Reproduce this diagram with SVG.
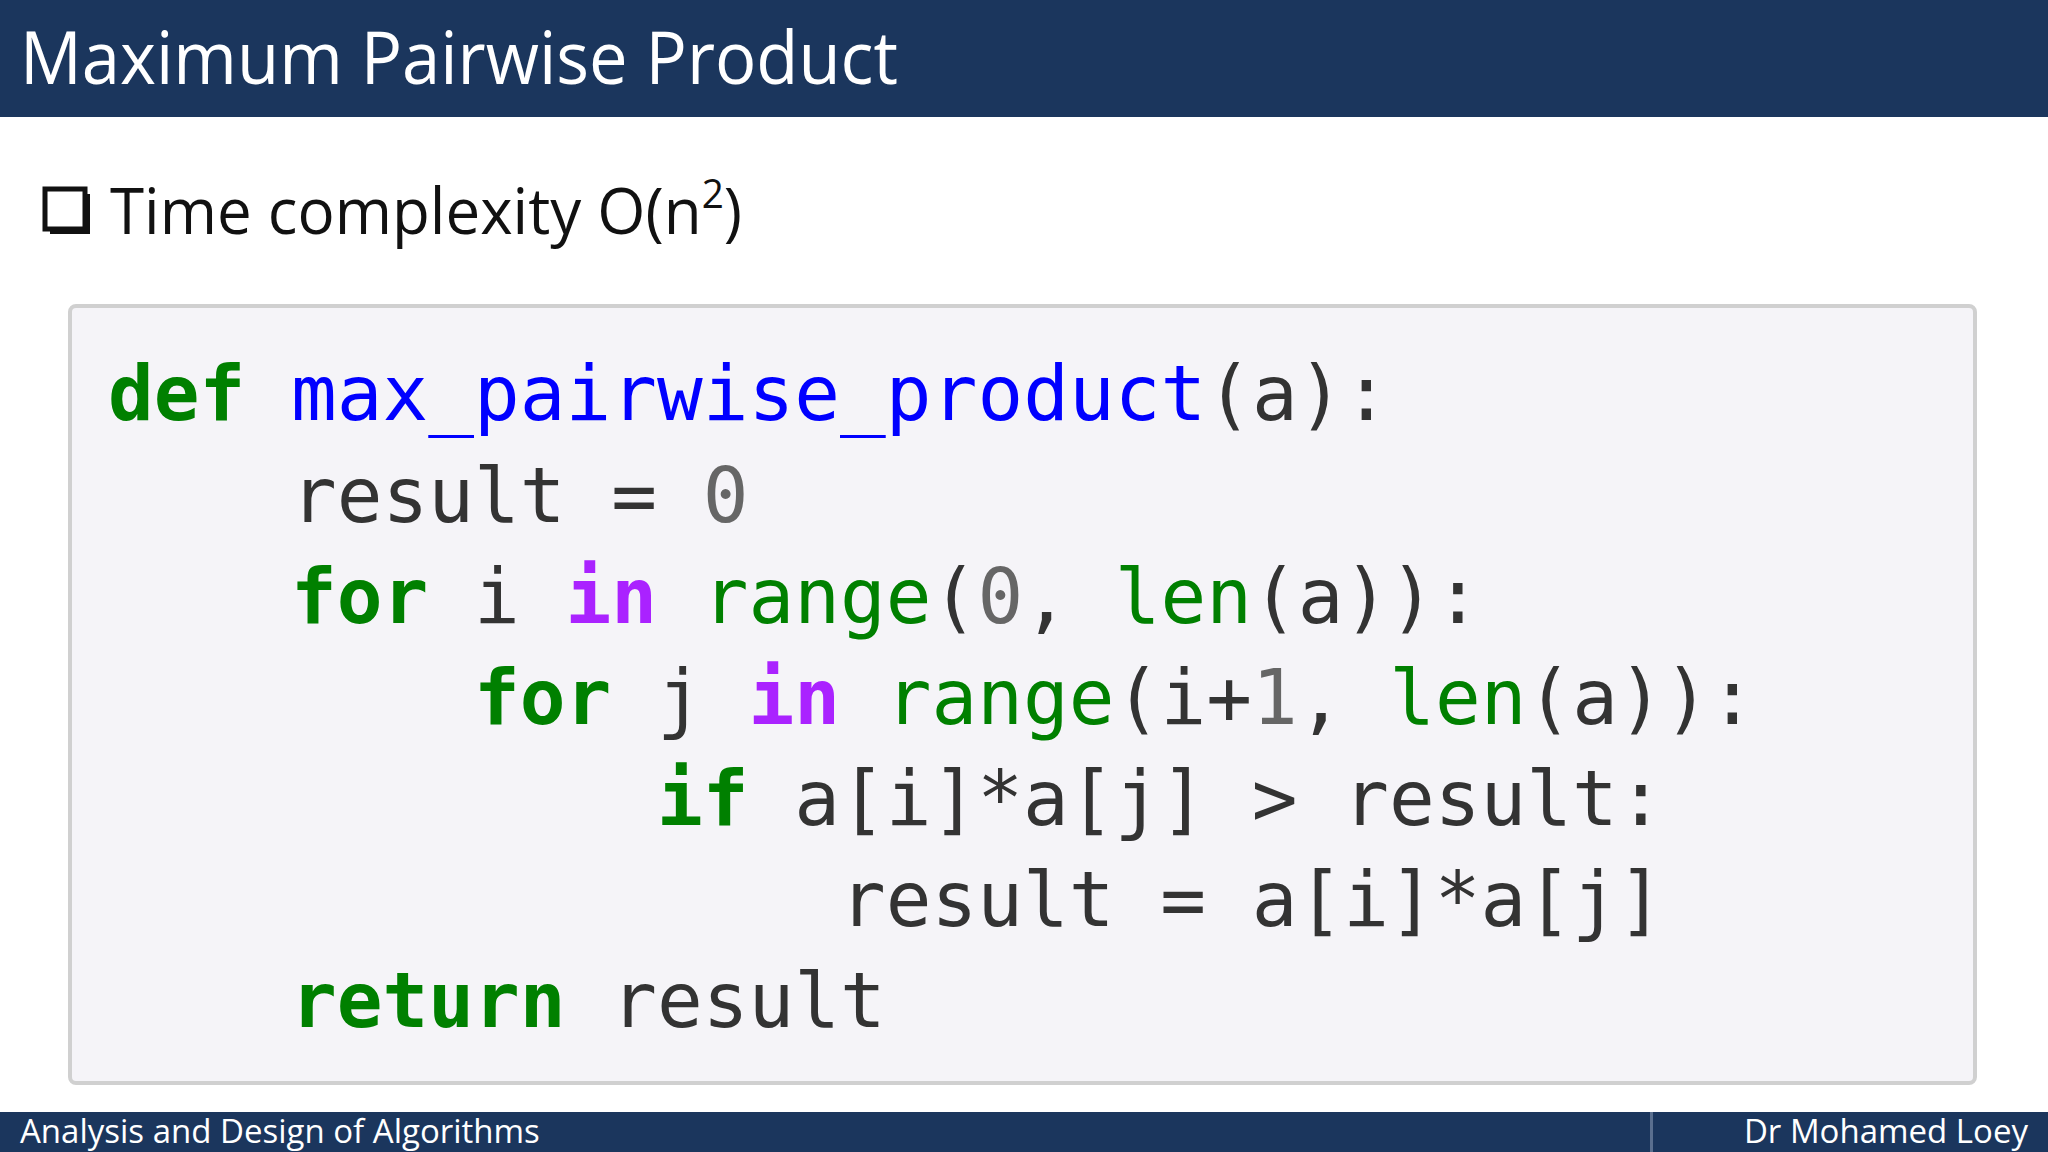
<svg xmlns="http://www.w3.org/2000/svg" width="2048" height="1152" viewBox="0 0 2048 1152">
<style>
.code{font-family:"DejaVu Sans Mono","Liberation Mono",monospace;font-size:76px;fill:#333}
.kw{fill:#008000;font-weight:bold}
.bi{fill:#008000}
.in{fill:#aa22ff;font-weight:bold}
.fn{fill:#0000ff}
.num{fill:#666}
.hdr{font-family:"Open Sans","Noto Sans",sans-serif;fill:#fff}
</style>
<rect width="2048" height="1152" fill="#ffffff"/>
<g id="header">
<rect x="0" y="0" width="2048" height="117" fill="#1b365d"/>
<text class="hdr" x="20" y="84" font-size="74" textLength="878" lengthAdjust="spacingAndGlyphs">Maximum Pairwise Product</text>
</g>
<g id="bullet">
<rect x="45" y="189" width="40" height="40" fill="#fff" stroke="#111" stroke-width="5"/>
<rect x="85" y="194" width="5" height="40" fill="#111"/>
<rect x="50" y="229" width="40" height="5" fill="#111"/>
<text x="110" y="234" font-family="Open Sans, Noto Sans, sans-serif" font-size="64" fill="#111" textLength="632" lengthAdjust="spacingAndGlyphs">Time complexity O(n<tspan font-size="40" dy="-26">2</tspan><tspan dy="26">)</tspan></text>
</g>
<g id="code">
<rect x="70" y="306" width="1905" height="777" rx="6" fill="#f5f4f8" stroke="#d0d0d0" stroke-width="4"/>
<text class="code" xml:space="preserve" x="108" y="420"><tspan class="kw">def</tspan> <tspan class="fn">max_pairwise_product</tspan>(a):</text>
<text class="code" xml:space="preserve" x="291" y="522">result = <tspan class="num">0</tspan></text>
<text class="code" xml:space="preserve" x="291" y="623"><tspan class="kw">for</tspan> i <tspan class="in">in</tspan> <tspan class="bi">range</tspan>(<tspan class="num">0</tspan>, <tspan class="bi">len</tspan>(a)):</text>
<text class="code" xml:space="preserve" x="474" y="724"><tspan class="kw">for</tspan> j <tspan class="in">in</tspan> <tspan class="bi">range</tspan>(i+<tspan class="num">1</tspan>, <tspan class="bi">len</tspan>(a)):</text>
<text class="code" xml:space="preserve" x="657" y="825"><tspan class="kw">if</tspan> a[i]*a[j] &gt; result:</text>
<text class="code" xml:space="preserve" x="840" y="926">result = a[i]*a[j]</text>
<text class="code" xml:space="preserve" x="291" y="1027"><tspan class="kw">return</tspan> result</text>
</g>
<g id="footer">
<rect x="0" y="1112" width="2048" height="40" fill="#1b365d"/>
<rect x="1650" y="1112" width="3" height="40" fill="#5a6f8f"/>
<text class="hdr" x="20" y="1143" font-size="33">Analysis and Design of Algorithms</text>
<text class="hdr" x="2028" y="1143" font-size="33" text-anchor="end">Dr Mohamed Loey</text>
</g>
</svg>
